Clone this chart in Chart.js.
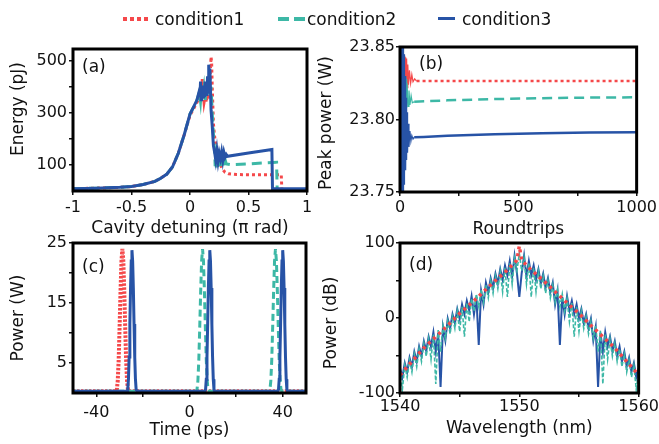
<!DOCTYPE html>
<html>
<head>
<meta charset="utf-8">
<script src="https://cdn.jsdelivr.net/npm/chart.js@4.4.1/dist/chart.umd.min.js"></script>
<style>
  body { margin: 0; background: #fff; }
  #wrap { position: relative; width: 659px; height: 444px; font-family: "DejaVu Sans"; color: #111; }
  #wrap canvas { position: absolute; left: 0; top: 0; }
  .key { position: absolute; top: 9px; height: 20px; line-height: 20px; font-size: 17px; }
  .mark { position: absolute; }
</style>
</head>
<body>
<div id="wrap">
  <canvas id="panelA" width="659" height="444"></canvas>
  <canvas id="panelB" width="659" height="444"></canvas>
  <canvas id="panelC" width="659" height="444"></canvas>
  <canvas id="panelD" width="659" height="444"></canvas>
  <div class="mark" style="left:123px;top:17px;width:26px;height:4px;background:repeating-linear-gradient(90deg,#f5484a 0 4px,transparent 4px 7px)"></div>
  <div class="key" style="left:155px">condition1</div>
  <div class="mark" style="left:278px;top:17px;width:27px;height:4px;background:repeating-linear-gradient(90deg,#3db8a6 0 11px,transparent 11px 16px)"></div>
  <div class="key" style="left:307px">condition2</div>
  <div class="mark" style="left:438px;top:17px;width:17px;height:3px;background:#2753a6"></div>
  <div class="key" style="left:462px">condition3</div>
</div>
<script>
const W = 659, H = 444;
const RED = '#f5484a', TEAL = '#3db8a6', BLUE = '#2753a6';

// (a) energy vs cavity detuning
const detA1 = [-1, -0.8, -0.6, -0.5, -0.4, -0.3, -0.25, -0.2, -0.15, -0.1, -0.05, 0, 0.03, 0.06, 0.08, 0.09, 0.1, 0.105, 0.11, 0.12, 0.13, 0.14, 0.15, 0.16, 0.17, 0.175, 0.18, 0.185, 0.19, 0.2, 0.21, 0.22, 0.24, 0.26, 0.28, 0.3, 0.33, 0.4, 0.6, 0.78, 0.785, 0.85, 1];
const energyA1 = [9, 11, 14, 17, 25, 37, 49, 64, 92, 145, 215, 290, 315, 340, 360, 345, 380, 430, 390, 340, 365, 340, 380, 350, 420, 470, 515, 490, 400, 260, 210, 180, 130, 100, 82, 72, 66, 63, 62, 62, 6, 6, 6];
const detA2 = [-1, -0.8, -0.6, -0.5, -0.4, -0.3, -0.25, -0.2, -0.15, -0.1, -0.05, 0, 0.03, 0.06, 0.08, 0.09, 0.1, 0.11, 0.12, 0.13, 0.14, 0.15, 0.16, 0.17, 0.18, 0.19, 0.2, 0.21, 0.215, 0.22, 0.225, 0.23, 0.235, 0.24, 0.245, 0.25, 0.255, 0.26, 0.265, 0.27, 0.275, 0.28, 0.285, 0.29, 0.295, 0.3, 0.31, 0.35, 0.5, 0.65, 0.74, 0.745, 0.8, 1];
const energyA2 = [9, 11, 14, 17, 25, 37, 49, 64, 92, 145, 215, 295, 322, 350, 380, 345, 400, 360, 395, 350, 410, 370, 430, 360, 400, 300, 220, 160, 95, 150, 90, 145, 92, 148, 95, 150, 90, 140, 96, 145, 92, 138, 98, 140, 95, 120, 104, 101, 104, 108, 110, 4, 4, 4];
const detA3 = [-1, -0.8, -0.6, -0.5, -0.4, -0.3, -0.25, -0.2, -0.15, -0.1, -0.05, 0, 0.03, 0.06, 0.08, 0.085, 0.09, 0.095, 0.1, 0.105, 0.11, 0.115, 0.12, 0.125, 0.13, 0.135, 0.14, 0.145, 0.15, 0.155, 0.16, 0.165, 0.17, 0.175, 0.18, 0.19, 0.2, 0.21, 0.22, 0.23, 0.24, 0.25, 0.26, 0.27, 0.28, 0.29, 0.3, 0.31, 0.32, 0.5, 0.7, 0.705, 0.8, 1];
const energyA3 = [9, 11, 14, 17, 25, 37, 49, 64, 92, 145, 215, 295, 322, 350, 385, 360, 420, 350, 395, 370, 405, 355, 390, 360, 420, 370, 400, 365, 440, 380, 485, 400, 470, 390, 310, 250, 175, 150, 120, 155, 115, 145, 125, 150, 118, 148, 130, 140, 133, 146, 159, 9, 9, 9];

// (b) peak power vs roundtrips
const rtB1 = [0, 1, 2, 3, 4, 5, 6, 7, 8, 9, 10, 12, 14, 16, 18, 20, 22, 24, 26, 28, 30, 33, 36, 40, 45, 50, 55, 62, 70, 1000];
const peakB1 = [23.80, 23.86, 23.75, 23.86, 23.76, 23.855, 23.78, 23.85, 23.80, 23.848, 23.81, 23.846, 23.815, 23.845, 23.818, 23.844, 23.82, 23.843, 23.821, 23.842, 23.822, 23.838, 23.824, 23.834, 23.825, 23.831, 23.826, 23.828, 23.8265, 23.8265];
const rtB2 = [0, 1, 2, 3, 4, 5, 6, 7, 8, 9, 10, 11, 12, 13, 14, 15, 16, 17, 18, 19, 20, 22, 24, 26, 28, 30, 34, 38, 42, 47, 52, 60, 200, 400, 600, 800, 1000];
const peakB2 = [23.80, 23.86, 23.74, 23.86, 23.74, 23.86, 23.75, 23.855, 23.77, 23.85, 23.785, 23.845, 23.795, 23.84, 23.80, 23.835, 23.804, 23.828, 23.806, 23.824, 23.807, 23.83, 23.807, 23.828, 23.808, 23.825, 23.809, 23.82, 23.810, 23.8165, 23.8115, 23.8123, 23.8132, 23.8141, 23.8147, 23.8151, 23.8153];
const rtB3 = [0, 1, 2, 3, 4, 5, 6, 7, 8, 9, 10, 11, 12, 13, 14, 15, 16, 17, 18, 19, 20, 22, 24, 26, 28, 30, 32, 35, 38, 42, 46, 50, 55, 60, 100, 200, 400, 600, 800, 1000];
const peakB3 = [23.80, 23.86, 23.74, 23.86, 23.74, 23.86, 23.74, 23.86, 23.74, 23.86, 23.74, 23.86, 23.74, 23.855, 23.745, 23.85, 23.75, 23.845, 23.755, 23.84, 23.76, 23.83, 23.765, 23.815, 23.772, 23.805, 23.777, 23.797, 23.781, 23.792, 23.785, 23.789, 23.7865, 23.7878, 23.788, 23.7888, 23.7898, 23.7905, 23.791, 23.7912];

// (c) power vs time
const timeC1 = [-50, -31.6, -31.2, -30.8, -30.4, -30.0, -29.6, -29.2, -28.8, -28.4, -28.0, -27.6, -27.2, -26.8, -26.4, -26.0, 50];
const powC1 = [0.3, 0.3, 0.5, 2, 5.5, 11, 17, 22, 24, 22, 17, 11, 5.5, 2, 0.5, 0.3, 0.3];
const timeC2 = [-50, 2.8, 3.2, 3.6, 4.0, 4.4, 4.8, 5.2, 5.6, 6.0, 6.4, 6.8, 7.2, 7.6, 8.0, 8.4, 34.1, 34.5, 34.9, 35.3, 35.7, 36.1, 36.5, 36.9, 37.3, 37.7, 38.1, 38.5, 38.9, 39.3, 39.7, 50];
const powC2 = [0.3, 0.3, 0.5, 2, 5.5, 11, 17, 22, 24, 22, 17, 11, 5.5, 2, 0.5, 0.3, 0.3, 0.5, 2, 5.5, 11, 17, 22, 24, 22, 17, 11, 5.5, 2, 0.5, 0.3, 0.3];
const timeC3 = [-50, -26.8, -26.5, -26.2, -25.9, -25.6, -25.3, -25.0, -24.7, -24.4, -24.1, -23.8, -23.5, -23.2, -22.9, -22.6, 6.6, 6.9, 7.2, 7.5, 7.8, 8.1, 8.4, 8.7, 9.0, 9.3, 9.6, 9.9, 10.2, 10.5, 10.8, 37.9, 38.2, 38.5, 38.8, 39.1, 39.4, 39.7, 40.0, 40.3, 40.6, 40.9, 41.2, 41.5, 41.8, 42.1, 50];
const powC3 = [0.3, 0.3, 0.6, 2.3, 6, 11.5, 17.5, 22, 23.8, 22, 17.5, 11.5, 6, 2.3, 0.6, 0.3, 0.3, 0.6, 2.3, 6, 11.5, 17.5, 22, 23.8, 22, 17.5, 11.5, 6, 2.3, 0.6, 0.3, 0.3, 0.6, 2.3, 6, 11.5, 17.5, 22, 23.8, 22, 17.5, 11.5, 6, 2.3, 0.6, 0.3, 0.3];

// (d) spectrum
const wlD = [1540.0, 1540.2, 1540.4, 1540.6, 1540.8, 1541.0, 1541.2, 1541.4, 1541.6, 1541.8,
  1542.0, 1542.2, 1542.4, 1542.6, 1542.8, 1543.0, 1543.2, 1543.4, 1543.6, 1543.8,
  1544.0, 1544.2, 1544.4, 1544.6, 1544.8, 1545.0, 1545.2, 1545.4, 1545.6, 1545.8,
  1546.0, 1546.2, 1546.4, 1546.6, 1546.8, 1547.0, 1547.2, 1547.4, 1547.6, 1547.8,
  1548.0, 1548.2, 1548.4, 1548.6, 1548.8, 1549.0, 1549.2, 1549.4, 1549.6, 1549.8,
  1550.0, 1550.2, 1550.4, 1550.6, 1550.8, 1551.0, 1551.2, 1551.4, 1551.6, 1551.8,
  1552.0, 1552.2, 1552.4, 1552.6, 1552.8, 1553.0, 1553.2, 1553.4, 1553.6, 1553.8,
  1554.0, 1554.2, 1554.4, 1554.6, 1554.8, 1555.0, 1555.2, 1555.4, 1555.6, 1555.8,
  1556.0, 1556.2, 1556.4, 1556.6, 1556.8, 1557.0, 1557.2, 1557.4, 1557.6, 1557.8,
  1558.0, 1558.2, 1558.4, 1558.6, 1558.8, 1559.0, 1559.2, 1559.4, 1559.6, 1559.8, 1560.0];
const specD2 = [-70, -95, -63, -79, -56, -72, -48, -65, -41, -58,
  -34, -51, -28, -55, -22, -88, -16, -45, -10, -27,
  -4, -21, 2, -14, 9, -18, 15, -25, 20, -5,
  26, 9, 32, 15, 38, 21, 44, 27, 50, 33,
  56, 39, 62, 35, 67, 28, 73, 45, 80, 63,
  86,
  63, 80, 45, 73, 28, 67, 35, 62, 39, 56,
  33, 50, 27, 44, 21, 38, 15, 32, 9, 26,
  -5, 20, -25, 15, -18, 9, -14, 2, -21, -4,
  -27, -10, -45, -16, -88, -22, -55, -28, -51, -34,
  -58, -41, -65, -48, -72, -56, -79, -63, -95, -70];
const specD3 = [-67, -79, -60, -72, -53, -65, -45, -58, -38, -51,
  -31, -44, -25, -38, -19, -45, -20, -92, -12, -30,
  -1, -14, 5, -7, 12, -1, 18, 5, 23, 10,
  29, 5, 28, -36, 36, 18, 47, 34, 53, 40,
  59, 46, 65, 51, 70, 57, 76, 55, 83, 60,
  28,
  60, 83, 55, 76, 57, 70, 51, 65, 46, 59,
  40, 53, 34, 47, 18, 36, -36, 28, 5, 29,
  10, 23, 5, 18, -1, 12, -7, 5, -14, -1,
  -30, -12, -92, -20, -45, -19, -38, -25, -44, -31,
  -51, -38, -58, -45, -65, -53, -72, -60, -79, -67];
const wlD1 = [1540, 1541, 1542, 1543, 1544, 1545, 1546, 1547, 1548, 1549, 1549.8, 1550, 1550.2, 1551, 1552, 1553, 1554, 1555, 1556, 1557, 1558, 1559, 1560];
const specD1 = [-76, -58, -40, -25, -10, 6, 20, 35, 50, 64, 77, 96, 77, 64, 50, 35, 20, 6, -10, -25, -40, -58, -76];

const xy = (xs, ys) => xs.map((x, i) => ({x: x, y: ys[i]}));

const tickFont = {family: 'DejaVu Sans', size: 16};
const titleFont = {family: 'DejaVu Sans', size: 17};

// black box round the plot, panel tag and the rotated y title
const frame = {
  id: 'frame',
  afterDraw(chart, args, o) {
    const {ctx, chartArea: a} = chart;
    ctx.save();
    ctx.lineWidth = 3;
    ctx.strokeStyle = '#000';
    ctx.strokeRect(a.left, a.top, a.right - a.left, a.bottom - a.top);
    ctx.fillStyle = '#111';
    ctx.font = '17px "DejaVu Sans"';
    ctx.textBaseline = 'middle';
    ctx.fillText(o.tag, o.tagX, o.tagY);
    ctx.translate(o.yx, o.yy);
    ctx.rotate(-Math.PI / 2);
    ctx.textAlign = 'center';
    ctx.fillText(o.ytitle, 0, 0);
    ctx.restore();
  }
};

function axis(a, size, horiz) {
  return {
    type: 'linear',
    min: a.min,
    max: a.max,
    afterBuildTicks: s => { s.ticks = a.ticks.map(v => ({value: v})); },
    afterFit: s => { if (horiz) s.height = size; else s.width = size; },
    ticks: {
      autoSkip: false, maxRotation: 0, padding: a.pad, font: tickFont, color: '#111',
      callback: v => a.labels.includes(v) ? (a.fmt ? a.fmt(v) : String(v)) : ''
    },
    grid: { drawOnChartArea: false, tickLength: 4, color: '#111', lineWidth: 1.5 },
    border: { display: false },
    title: { display: !!a.title, text: a.title, font: titleFont, color: '#111', padding: 0 }
  };
}

function panel(id, box, ax, datasets, deco) {
  new Chart(document.getElementById(id), {
    type: 'line',
    data: { datasets: datasets },
    options: {
      responsive: false,
      animation: false,
      devicePixelRatio: 1,
      layout: { padding: { left: box.l - box.yw, top: box.t, right: W - box.r, bottom: H - box.b - box.xh } },
      elements: { point: { radius: 0 }, line: { tension: 0 } },
      plugins: { legend: { display: false }, tooltip: { enabled: false }, frame: deco },
      scales: { x: axis(ax.x, box.xh, true), y: axis(ax.y, box.yw, false) }
    },
    plugins: [frame]
  });
}

panel('panelA', {l: 73, t: 49, r: 307, b: 191, yw: 64, xh: 48}, {
  x: {min: -1, max: 1, ticks: [-1, -0.5, 0, 0.5, 1], labels: [-1, -0.5, 0, 0.5, 1], pad: 3, title: 'Cavity detuning (\u03c0 rad)'},
  y: {min: 0, max: 545, ticks: [100, 200, 300, 400, 500], labels: [100, 300, 500], pad: 2}
}, [
  {label: 'condition1', data: xy(detA1, energyA1), borderColor: RED, borderWidth: 3, borderDash: [3, 3], order: 3},
  {label: 'condition2', data: xy(detA2, energyA2), borderColor: TEAL, borderWidth: 3, borderDash: [10, 6], order: 2},
  {label: 'condition3', data: xy(detA3, energyA3), borderColor: BLUE, borderWidth: 3, order: 1}
], {tag: '(a)', tagX: 82, tagY: 68, ytitle: 'Energy (pJ)', yx: 19, yy: 109});

panel('panelB', {l: 400, t: 47, r: 644, b: 192, yw: 83, xh: 48}, {
  x: {min: 0, max: 1000, ticks: [0, 250, 500, 750, 1000], labels: [0, 500, 1000], pad: 2, title: 'Roundtrips'},
  y: {min: 23.75, max: 23.85, ticks: [23.75, 23.8, 23.85], labels: [23.75, 23.8, 23.85], pad: 1, fmt: v => v.toFixed(2)}
}, [
  {label: 'condition1', data: xy(rtB1, peakB1), borderColor: RED, borderWidth: 2.5, order: 3,
    segment: { borderDash: c => c.p0.parsed.x >= 70 ? [3, 3] : [], borderWidth: c => c.p0.parsed.x >= 70 ? 2.5 : 1.2 }},
  {label: 'condition2', data: xy(rtB2, peakB2), borderColor: TEAL, borderWidth: 2.5, order: 2,
    segment: { borderDash: c => c.p0.parsed.x >= 60 ? [10, 6] : [], borderWidth: c => c.p0.parsed.x >= 60 ? 2.5 : 1.2 }},
  {label: 'condition3', data: xy(rtB3, peakB3), borderColor: BLUE, borderWidth: 2.5, order: 1,
    segment: { borderWidth: c => c.p0.parsed.x >= 60 ? 2.5 : 1.2 }}
], {tag: '(b)', tagX: 419, tagY: 65, ytitle: 'Peak power (W)', yx: 327, yy: 123});

panel('panelC', {l: 73, t: 243, r: 306, b: 393, yw: 64, xh: 48}, {
  x: {min: -50, max: 50, ticks: [-40, -20, 0, 20, 40], labels: [-40, 0, 40], pad: 6, title: 'Time (ps)'},
  y: {min: 0, max: 25, ticks: [5, 10, 15, 20, 25], labels: [5, 15, 25], pad: 2}
}, [
  {label: 'condition1', data: xy(timeC1, powC1), borderColor: RED, borderWidth: 4, borderDash: [2.5, 1.5], order: 3},
  {label: 'condition2', data: xy(timeC2, powC2), borderColor: TEAL, borderWidth: 3, borderDash: [7, 4], order: 2},
  {label: 'condition3', data: xy(timeC3, powC3), borderColor: BLUE, borderWidth: 3, order: 1}
], {tag: '(c)', tagX: 82, tagY: 268, ytitle: 'Power (W)', yx: 19, yy: 318});

panel('panelD', {l: 400, t: 243, r: 644, b: 393, yw: 78, xh: 46}, {
  x: {min: 1540, max: 1560, ticks: [1540, 1545, 1550, 1555, 1560], labels: [1540, 1550, 1560], pad: 0, title: 'Wavelength (nm)'},
  y: {min: -100, max: 100, ticks: [-100, -50, 0, 50, 100], labels: [-100, 0, 100], pad: 1}
}, [
  {label: 'condition1', data: xy(wlD1, specD1), borderColor: RED, borderWidth: 3.5, borderDash: [3, 4], order: 1},
  {label: 'condition2', data: xy(wlD, specD2), borderColor: TEAL, borderWidth: 1.6, borderDash: [4, 2], order: 2},
  {label: 'condition3', data: xy(wlD, specD3), borderColor: BLUE, borderWidth: 2, order: 3}
], {tag: '(d)', tagX: 409, tagY: 266, ytitle: 'Power (dB)', yx: 332, yy: 323});
</script>
</body>
</html>
